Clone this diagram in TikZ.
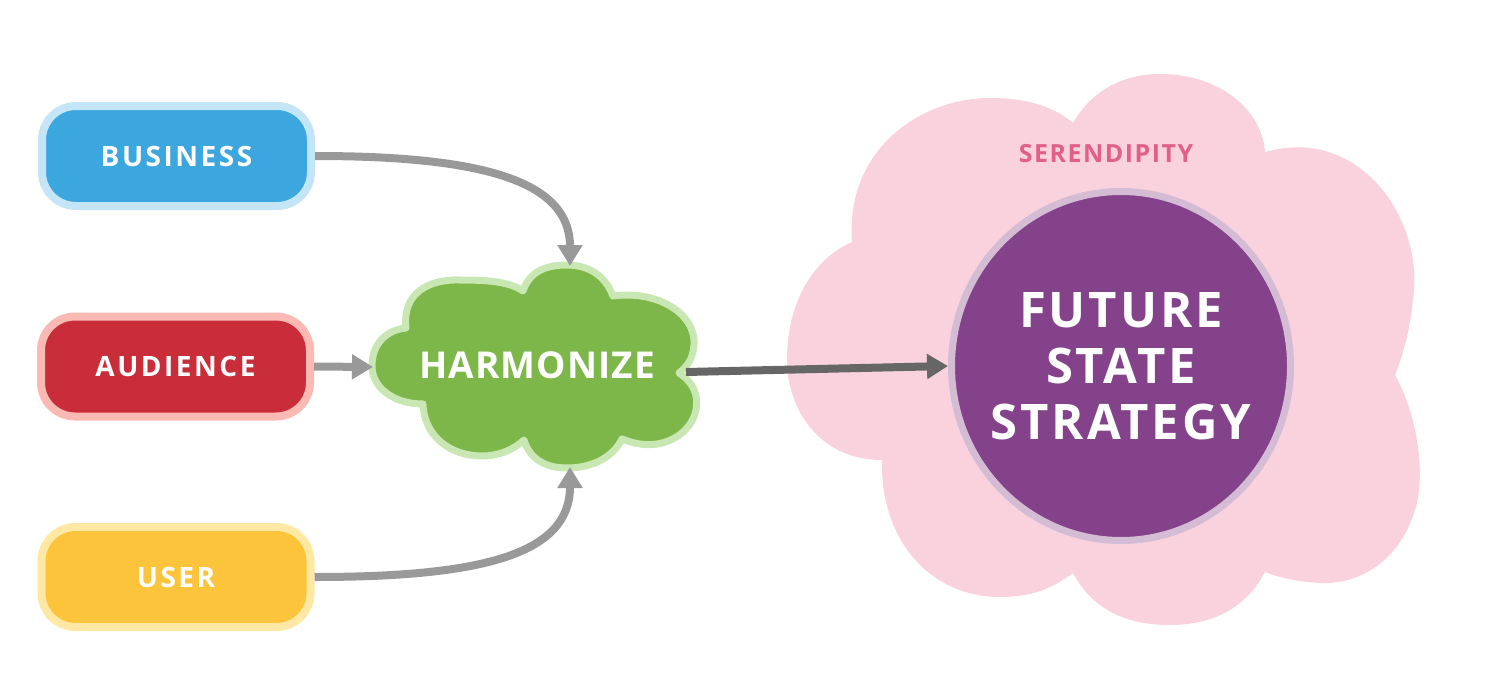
\documentclass[tikz,border=0pt]{standalone}
\usepackage{fontspec}
\usepackage{tikz}
\usetikzlibrary{arrows.meta}
\usetikzlibrary{shapes.geometric}
\newfontfamily\tagfont[LetterSpace=6]{Open Sans}
\newfontfamily\boxfont[LetterSpace=9]{Open Sans}
\newfontfamily\harmfont[LetterSpace=3]{Open Sans}
\definecolor{bizblue}{HTML}{3CA6DF}
\definecolor{bizring}{HTML}{C4E5F6}
\definecolor{audred}{HTML}{C92D3A}
\definecolor{audring}{HTML}{FBB9B3}
\definecolor{usryellow}{HTML}{FCC43B}
\definecolor{usrring}{HTML}{FEE8A3}
\definecolor{harmgreen}{HTML}{7DB649}
\definecolor{harmring}{HTML}{C8E7B3}
\definecolor{serpink}{HTML}{F9D2DE}
\definecolor{sertext}{HTML}{E0608A}
\definecolor{fspurple}{HTML}{84428A}
\definecolor{fsring}{HTML}{D3BCD4}
\definecolor{feedgray}{HTML}{999999}
\definecolor{maingray}{HTML}{666666}
\begin{document}
\begin{tikzpicture}[x=1pt,y=-1pt,
  srcbox/.style={rectangle,rounded corners=34pt,line width=8pt,minimum width=269pt,
    minimum height=100pt,inner sep=0pt,text=white,
    font=\boxfont\bfseries\fontsize{28}{34}\selectfont},
  feed/.style={draw=feedgray,line width=8pt,-{Triangle[length=21pt,width=24pt]}},
  mainfeed/.style={draw=maingray,line width=8pt,-{Triangle[length=21pt,width=24pt]}}]
\useasboundingbox (0,0) rectangle (1500,685);
\fill[serpink] (852,242) .. controls (845,150) and (920,98) .. (990,98)
  .. controls (1030,98) and (1055,108) .. (1073,123)
  .. controls (1095,85) and (1130,74) .. (1160,74)
  .. controls (1220,74) and (1262,110) .. (1265,152)
  .. controls (1360,125) and (1425,220) .. (1413,300)
  .. controls (1410,330) and (1403,355) .. (1395,375)
  .. controls (1420,420) and (1425,480) .. (1415,510)
  .. controls (1400,560) and (1360,585) .. (1320,583)
  .. controls (1300,582) and (1280,578) .. (1265,572)
  .. controls (1245,610) and (1210,625) .. (1170,625)
  .. controls (1120,625) and (1090,605) .. (1073,573)
  .. controls (1050,590) and (1030,597) .. (1000,597)
  .. controls (930,597) and (880,540) .. (882,460)
  .. controls (820,460) and (787,410) .. (787,360)
  .. controls (787,300) and (815,258) .. (852,242) -- cycle;
\node[text=sertext,font=\tagfont\bfseries\fontsize{25}{30}\selectfont] (serendipity) at (1106,154) {SERENDIPITY};
\node[ellipse,fill=fspurple,draw=fsring,line width=7pt,minimum width=339pt,minimum height=349pt,
  inner sep=0pt] (strategy) at (1121,366) {};
\node[text=white,align=center,font=\tagfont\bfseries\fontsize{49}{56}\selectfont]
  (strategytext) at (strategy) {FUTURE\\STATE\\STRATEGY};
\draw[fill=harmgreen,draw=harmring,line width=7pt,line join=round]
  (406,328) .. controls (402,292) and (430,279) .. (460,280)
  .. controls (490,280) and (510,282) .. (523,291)
  .. controls (530,270) and (548,265) .. (567,265)
  .. controls (588,265) and (605,275) .. (613,296)
  .. controls (655,290) and (696,312) .. (694,345)
  .. controls (693,358) and (688,366) .. (679,373)
  .. controls (693,382) and (699,395) .. (696,410)
  .. controls (691,434) and (665,448) .. (640,444)
  .. controls (633,443) and (627,441) .. (622,439)
  .. controls (612,459) and (590,468) .. (567,468)
  .. controls (545,468) and (530,459) .. (524,440)
  .. controls (512,451) and (497,456) .. (482,456)
  .. controls (450,456) and (424,436) .. (423,404)
  .. controls (394,404) and (372,388) .. (372,366)
  .. controls (372,344) and (386,330) .. (406,328) -- cycle;
\node[text=white,font=\harmfont\bfseries\fontsize{37}{44}\selectfont] (harmonize) at (537,365) {HARMONIZE};
\coordinate (hTop) at (570,266);
\coordinate (hLeft) at (373,367);
\coordinate (hBot) at (570,467);
\coordinate (hRight) at (686,372);
\node[srcbox,fill=bizblue,draw=bizring] (business) at (176.5,156) {BUSINESS};
\node[srcbox,fill=audred,draw=audring] (audience) at (175.5,366.5) {AUDIENCE};
\node[srcbox,fill=usryellow,draw=usrring] (user) at (176,577) {USER};
\draw[feed] (business.east) .. controls (480,156) and (570,180) .. (hTop);
\draw[feed] (audience.east) -- (hLeft);
\draw[feed] (user.east) .. controls (480,577) and (570,555) .. (hBot);
\draw[mainfeed] (hRight) -- (strategy.west);
\end{tikzpicture}
\end{document}
